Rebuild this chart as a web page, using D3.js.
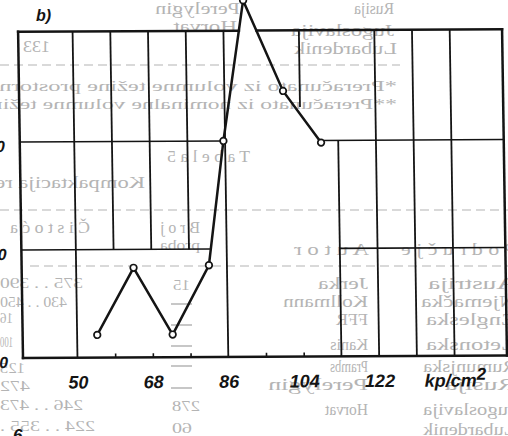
<!DOCTYPE html>
<html>
<head>
<meta charset="utf-8">
<script src="https://cdn.jsdelivr.net/npm/d3@7"></script>
<style>
  html, body { margin: 0; padding: 0; background: #fff; overflow: hidden; }
  svg { display: block; }
</style>
</head>
<body>
<svg id="chart" width="508" height="436"></svg>
<script>
// Compaction pressure (kp/cm²) and the measured value at each step
const pressure = [54.8, 63.7, 72.8, 81.7, 85.6, 90.8, 100, 108.9];
const values   = [2.1, 8.3, 2.1, 8.5, 20.0, 33.0, 24.6, 19.8];

// Axis labelling
const xTickValues  = [50, 68, 86, 104, 122, 140];
const xTickLabels  = ["50", "68", "86", "104", "122", "kp/cm"];
const xMinorTicks  = [59, 68, 77, 95, 104];
const yTickValues  = [0, 10, 20];
const yTickLabels  = ["0", "10", "20"];

// Hand-ruled grid: vertical rules [x, yFrom, yTo], horizontal rules [y, xFrom, xTo]
const vRules = [[50, 0, 30.2], [59, 10, 30.2], [68, 10, 30.2], [77, 10, 30.2], [86, 0, 30.2],
                [104, 23.1, 30.2], [113, 0, 20], [122, 0, 30.2], [131, 0, 30.2], [140, 0, 30.2]];
const hRules = [[20, 37, 85.6], [20, 108.9, 152.5], [10, 37, 82], [10, 113, 152.5]];

// Print from the reverse of the sheet showing through the paper (reads mirrored):
// [text, left, right, baseline, fontSize]
const showThrough = [
  ["Perelygin", 155, 240, 14, 16], ["Rusija", 354, 394, 14, 16],
  ["Horvat", 173, 237, 32, 16], ["Jugoslavija", 291, 394, 36, 16],
  ["133", 23, 50, 52, 16], ["Lubardenik", 294, 397, 54, 16],
  ["*Preračunato iz volumne težine prostornih", -20, 397, 91, 15],
  ["**Preračunato iz nominalne volumne težine", -20, 397, 109, 15],
  ["T a b e l a  5", 167, 250, 162, 17],
  ["Kompaktacija re", -5, 145, 188, 17],
  ["Č i s t o ć a", 10, 90, 233, 16], ["B r o j", 160, 200, 233, 16],
  ["proba", 160, 200, 250, 15],
  ["A u t o r", 294, 369, 255, 16], ["P o d r u č j e", 401, 516, 255, 16],
  ["375 . . 390", 0, 83, 288, 15], ["430 . . 450", 0, 67, 307, 15],
  ["16", 0, 13, 323, 15], ["100", 0, 13, 347, 15], ["125", 0, 25, 373, 15],
  ["472", 0, 30, 391, 15], ["246 . . 473", 0, 83, 410, 15], ["224 . . 355 .", 0, 95, 431, 15],
  ["15", 173, 190, 290, 15], ["278", 172, 200, 411, 15], ["60", 172, 192, 433, 15],
  ["Jerka", 318, 368, 289, 17], ["Kollmann", 283, 368, 307, 17], ["FFR", 336, 368, 325, 17],
  ["Kanis", 330, 368, 350, 17], ["Prambs", 330, 368, 372, 17], ["Perelygin", 268, 368, 390, 17],
  ["Horvat", 325, 368, 415, 17],
  ["Austrija", 428, 516, 289, 17], ["Njemačka", 421, 516, 307, 17], ["Engleska", 426, 516, 325, 17],
  ["Letonska", 426, 516, 350, 17], ["Rumunjska", 423, 516, 372, 17], ["Rusija", 445, 516, 390, 17],
  ["Jugoslavija", 423, 516, 415, 17], ["Lubardenik", 423, 516, 435, 17]
];
const showThroughRules = [[65, 0, 400], [210, 0, 508], [266, 30, 508]];
const showThroughDashes = [304, 325, 346, 366, 388];

const svg = d3.select("#chart");
const ink = "#141414";
const ghost = "#b4b4b4";

// --- reverse-side print ---
const back = svg.append("g").attr("font-family", "'Liberation Serif', serif").attr("fill", ghost);
showThroughRules.forEach(([yy, x0, x1]) => {
  back.append("line").attr("x1", x0).attr("x2", x1).attr("y1", yy).attr("y2", yy)
    .attr("stroke", ghost).attr("stroke-width", 1.2).attr("stroke-dasharray", "9 5");
});
showThroughDashes.forEach(yy => {
  back.append("line").attr("x1", 171).attr("x2", 192).attr("y1", yy).attr("y2", yy)
    .attr("stroke", ghost).attr("stroke-width", 1.5);
});
showThrough.forEach(([t, x0, x1, yy, fs]) => {
  const txt = back.append("text").attr("font-size", fs).text(t);
  const len = txt.node().getComputedTextLength() || 1;
  const k = (x1 - x0) / len;
  // mirrored: the string starts at the right edge and runs leftwards
  txt.attr("transform", `translate(${x1},${yy}) scale(${-k},1)`);
});

// --- chart (the ruled sheet sits slightly askew) ---
const x = d3.scaleLinear().domain([37, 152.5]).range([23, 507]);
const y = d3.scaleLinear().domain([0, 30.2]).range([358, 31.8]);

const g = svg.append("g")
  .attr("transform", "translate(23,358) skewX(0.86) skewY(-0.29) translate(-23,-358)");

// inner rules
vRules.forEach(([v, a, b]) => {
  g.append("line").attr("x1", x(v)).attr("x2", x(v)).attr("y1", y(a)).attr("y2", y(b))
    .attr("stroke", ink).attr("stroke-width", 1.8);
});
hRules.forEach(([v, a, b]) => {
  g.append("line").attr("x1", x(a)).attr("x2", x(b)).attr("y1", y(v)).attr("y2", y(v))
    .attr("stroke", ink).attr("stroke-width", 1.6);
});

// frame
const [xLo, xHi] = x.domain();
const [yLo, yHi] = y.domain();
const frame = [
  [[xLo, yLo], [xLo, yHi]], [[xHi, yLo], [xHi, yHi]], [[xLo, yLo], [xHi, yLo]],
  [[xLo, yHi], [89.7, yHi]], [[93.9, yHi], [xHi, yHi]]
];
frame.forEach(([p, q]) => {
  g.append("line").attr("x1", x(p[0])).attr("y1", y(p[1])).attr("x2", x(q[0])).attr("y2", y(q[1]))
    .attr("stroke", ink).attr("stroke-width", 2.5).attr("stroke-linecap", "square");
});

// minor ticks on the pressure axis
g.append("g").attr("transform", `translate(0,${y(0)})`)
  .call(d3.axisBottom(x).tickValues(xMinorTicks).tickSizeInner(-4).tickSizeOuter(0).tickFormat(""))
  .call(s => s.select(".domain").remove())
  .call(s => s.selectAll("line").attr("stroke", ink).attr("stroke-width", 1.6));

// pressure axis labels
const xAxis = g.append("g").attr("transform", `translate(0,${y(0)})`)
  .call(d3.axisBottom(x).tickValues(xTickValues).tickSize(0).tickPadding(18)
        .tickFormat((d, i) => xTickLabels[i]));
xAxis.select(".domain").remove();
xAxis.selectAll("text")
  .attr("fill", ink)
  .attr("font-family", "'Liberation Sans', Arial, sans-serif")
  .attr("font-weight", "bold").attr("font-style", "italic").attr("font-size", 18);
xAxis.selectAll("text").filter((d, i) => i === xTickValues.length - 1)
  .append("tspan").attr("dy", "-0.4em").attr("font-size", 17).text("2");

// value labels on the left edge
g.append("g").selectAll("text").data(yTickValues).join("text")
  .attr("x", 8).attr("y", d => y(d) + 10)
  .attr("text-anchor", "end")
  .attr("fill", ink)
  .attr("font-family", "'Liberation Sans', Arial, sans-serif")
  .attr("font-weight", "bold").attr("font-style", "italic").attr("font-size", 16)
  .text((d, i) => yTickLabels[i]);

// measured curve
const pts = pressure.map((p, i) => [p, values[i]]);
g.append("path").datum(pts)
  .attr("d", d3.line().x(d => x(d[0])).y(d => y(d[1])))
  .attr("fill", "none").attr("stroke", ink).attr("stroke-width", 2.5)
  .attr("stroke-linejoin", "miter");
g.append("g").selectAll("circle").data(pts).join("circle")
  .attr("cx", d => x(d[0])).attr("cy", d => y(d[1])).attr("r", 3.3)
  .attr("fill", "#fff").attr("stroke", ink).attr("stroke-width", 1.7);

// panel and figure marks
svg.append("text").attr("x", 36).attr("y", 21)
  .attr("fill", ink).attr("font-family", "'Liberation Sans', Arial, sans-serif")
  .attr("font-weight", "bold").attr("font-style", "italic").attr("font-size", 16)
  .text("b)");
svg.append("text").attr("x", 13).attr("y", 441)
  .attr("fill", ink).attr("font-family", "'Liberation Sans', Arial, sans-serif")
  .attr("font-weight", "bold").attr("font-style", "italic").attr("font-size", 17)
  .text("6");
</script>
</body>
</html>
